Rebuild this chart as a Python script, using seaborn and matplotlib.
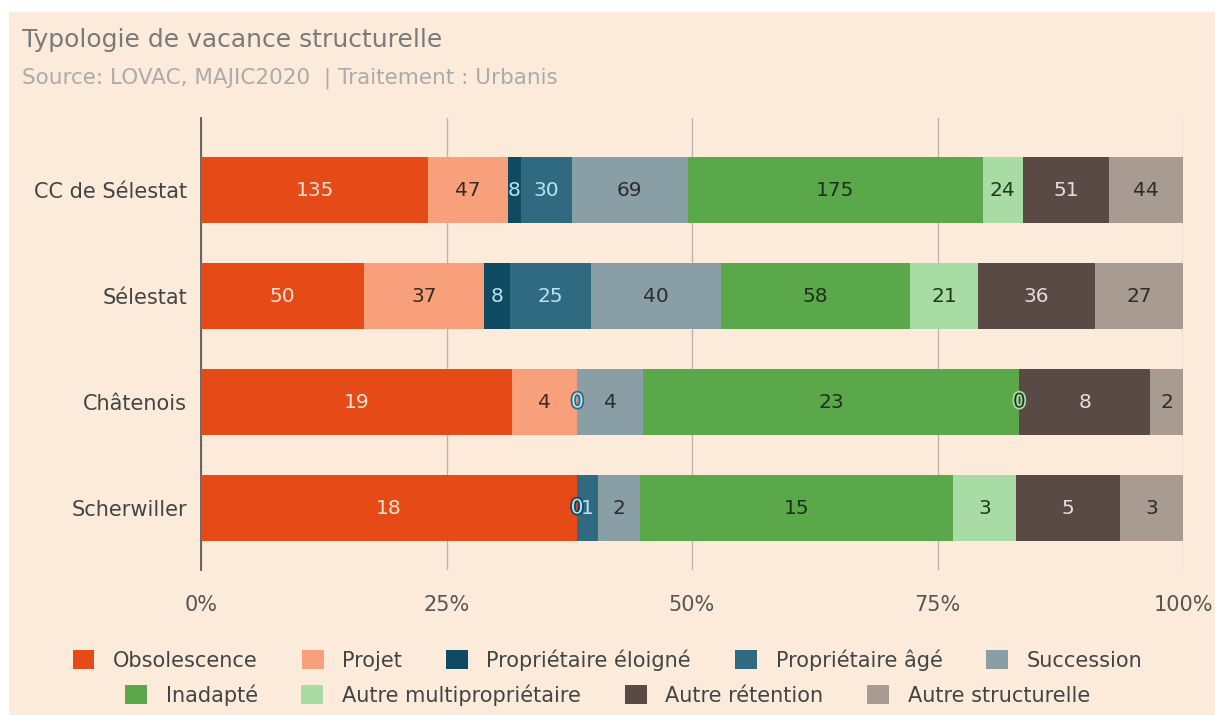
import numpy as np
import pandas as pd
import matplotlib
matplotlib.use("Agg")
import matplotlib.pyplot as plt
import matplotlib.patheffects as pe
from matplotlib.patches import Patch, Rectangle
import seaborn as sns

# --- data -------------------------------------------------------------------
territoires = ["CC de Sélestat", "Sélestat", "Châtenois", "Scherwiller"]
typologies = ["Obsolescence", "Projet", "Propriétaire éloigné", "Propriétaire âgé",
              "Succession", "Inadapté", "Autre multipropriétaire",
              "Autre rétention", "Autre structurelle"]
obsolescence = [135, 50, 19, 18]
projet = [47, 37, 4, np.nan]
proprietaire_eloigne = [8, 8, np.nan, 0]
proprietaire_age = [30, 25, 0, 1]
succession = [69, 40, 4, 2]
inadapte = [175, 58, 23, 15]
autre_multiproprietaire = [24, 21, 0, 3]
autre_retention = [51, 36, 8, 5]
autre_structurelle = [44, 27, 2, 3]
tick_values = [0, 25, 50, 75, 100]
tick_labels = ["0%", "25%", "50%", "75%", "100%"]

title = "Typologie de vacance structurelle"
subtitle = "Source: LOVAC, MAJIC2020  | Traitement : Urbanis"

# --- styles -----------------------------------------------------------------
colors = ["#E64A16", "#F8A07C", "#0E4A62", "#2F6A80", "#8A9EA6",
          "#5BA84B", "#A9DBA4", "#5A4A46", "#A89C92"]
label_colors = ["#FCE3D6", "#3A2A22", "#B9E2F2", "#B9E2F2", "#2C2C2C",
                "#1F2F1C", "#1E3A1E", "#E6DEDC", "#2C2C2C"]
BG = "#FCEBDA"

values = pd.DataFrame(dict(zip(typologies, [
    obsolescence, projet, proprietaire_eloigne, proprietaire_age, succession,
    inadapte, autre_multiproprietaire, autre_retention, autre_structurelle])),
    index=territoires)
share = values.div(values.sum(axis=1), axis=0) * 100
filled = share.fillna(0)
cum_end = filled.cumsum(axis=1)
cum_start = cum_end - filled

sns.set_theme(style="white")
plt.rcParams["font.family"] = ["DejaVu Sans"]

W, H = 1215, 715
fig = plt.figure(figsize=(W / 100, H / 100), dpi=100, facecolor="white")
fig.add_artist(Rectangle((9 / W, -0.05), 1.1, 1.05 - 12 / H,
                         transform=fig.transFigure,
                         facecolor=BG, edgecolor="none", zorder=-10))

ax = fig.add_axes([201 / W, 1 - 570 / H, 982 / W, 452 / H])
ax.set_facecolor("none")

# stacked bars: draw cumulative layers from the outermost inwards
for k in reversed(range(len(typologies))):
    layer = pd.DataFrame({"territoire": territoires,
                          "cum": cum_end.iloc[:, k].values})
    sns.barplot(data=layer, x="cum", y="territoire", order=territoires,
                color=colors[k], saturation=1, width=0.63, linewidth=0,
                errorbar=None, ax=ax, zorder=3)

# value labels centred in each segment
for k, col in enumerate(typologies):
    for i, terr in enumerate(territoires):
        v = values.loc[terr, col]
        if np.isnan(v):
            continue
        x = cum_start.loc[terr, col] + filled.loc[terr, col] / 2
        effects = [pe.withStroke(linewidth=2.5, foreground=colors[k])] if v == 0 else None
        ax.text(x, i, f"{int(v)}", ha="center", va="center", fontsize=14.5,
                color=label_colors[k], zorder=5, path_effects=effects)

ax.set_xlim(0, 100)
ax.set_ylim(3.585, -0.68)
ax.set_xticks(tick_values, tick_labels)
ax.set_xlabel("")
ax.set_ylabel("")
ax.xaxis.grid(True, color="#BDB5AD", linewidth=1)
ax.set_axisbelow(True)
for side in ["top", "right", "bottom"]:
    ax.spines[side].set_visible(False)
ax.spines["left"].set_color("#5E5A57")
ax.spines["left"].set_linewidth(1.3)
ax.tick_params(axis="x", length=0, pad=18, labelsize=15, labelcolor="#555555")
ax.tick_params(axis="y", length=0, pad=10, labelsize=15, labelcolor="#444444")

fig.text(22 / W, 1 - 40 / H, title, fontsize=18, color="#7A7A7A",
         ha="left", va="center")
fig.text(22 / W, 1 - 78 / H, subtitle, fontsize=15.5, color="#ABABAB",
         ha="left", va="center")

handles = [Patch(facecolor=c, edgecolor="none") for c in colors]
legend_kw = dict(loc="center", frameon=False, fontsize=15, handlelength=1.05,
                 handleheight=1.05, handletextpad=0.9, columnspacing=2.1,
                 labelcolor="#444444", borderpad=0, borderaxespad=0)
fig.legend(handles[:5], typologies[:5], ncol=5,
           bbox_to_anchor=(0.5, 1 - 660 / H), **legend_kw)
fig.legend(handles[5:], typologies[5:], ncol=4,
           bbox_to_anchor=(0.5, 1 - 695 / H), **legend_kw)

fig.savefig("out.png", dpi=100, facecolor=fig.get_facecolor())
